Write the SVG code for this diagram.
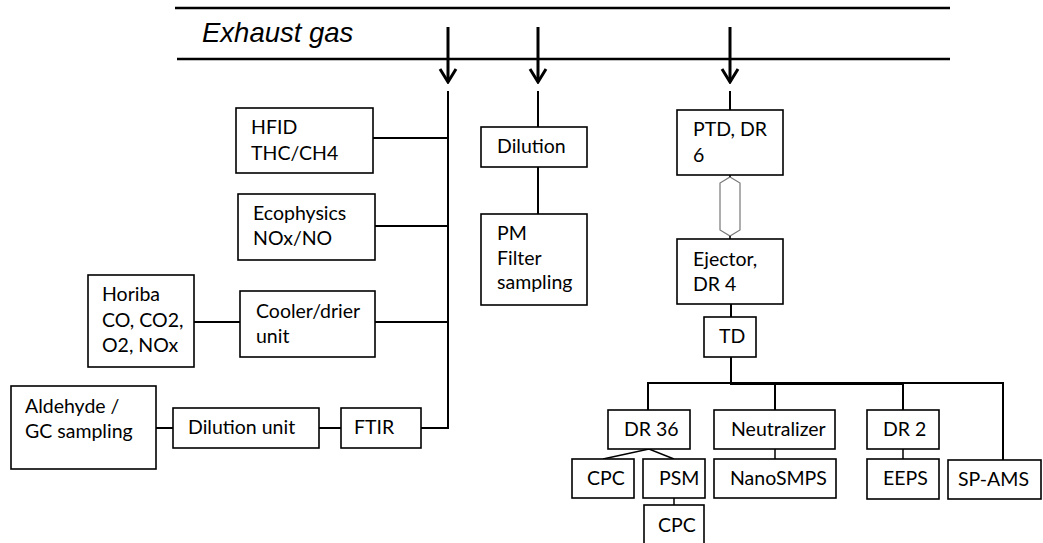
<svg xmlns="http://www.w3.org/2000/svg" width="1043" height="543" viewBox="0 0 1043 543">
<style>
.box{fill:#fff;stroke:#000;stroke-width:1.6}
.t{font-family:Lato,"Liberation Sans",sans-serif;font-size:19.5px;fill:#000}
.ln{stroke:#000;stroke-width:2;fill:none}
.thin{stroke:#000;stroke-width:1.5;fill:none}
.pipe{stroke:#000;stroke-width:2.5;fill:none}
.arr{stroke:#000;stroke-width:3;fill:none}
.title{font-family:"Liberation Sans",Arial,sans-serif;font-style:italic;font-size:27.5px;fill:#000}
</style>
<defs>
<marker id="chev" viewBox="-15 -10 17 20" refX="0" refY="0" markerWidth="17" markerHeight="20" markerUnits="userSpaceOnUse" orient="auto">
<path d="M -13 -8 L 0 0 L -13 8" fill="none" stroke="#000" stroke-width="3"/>
</marker>
</defs>
<g id="exhaust">
<line class="pipe" x1="175" y1="8" x2="950" y2="8"/>
<line class="pipe" x1="177" y1="59" x2="950" y2="59"/>
<text class="title" x="202" y="42">Exhaust gas</text>
</g>
<g id="connectors">
<line class="arr" x1="448" y1="27" x2="448" y2="82" marker-end="url(#chev)"/>
<line class="arr" x1="538" y1="27" x2="538" y2="82" marker-end="url(#chev)"/>
<line class="arr" x1="730" y1="27" x2="730" y2="82" marker-end="url(#chev)"/>
<polyline class="ln" points="448,91 448,428 421,428"/>
<line class="ln" x1="373" y1="138" x2="448" y2="138"/>
<line class="ln" x1="375" y1="226" x2="448" y2="226"/>
<line class="ln" x1="375" y1="322" x2="448" y2="322"/>
<line class="ln" x1="194" y1="322" x2="240" y2="322"/>
<line class="ln" x1="156" y1="428" x2="173" y2="428"/>
<line class="ln" x1="319" y1="428" x2="341" y2="428"/>
<line class="ln" x1="538" y1="91" x2="538" y2="127"/>
<line class="ln" x1="538" y1="167" x2="538" y2="214"/>
<line class="ln" x1="730" y1="91" x2="730" y2="110"/>
<polygon points="730,177 740,183 740,230 730,236 720,230 720,183" fill="none" stroke="#777" stroke-width="1.2"/>
<line class="thin" x1="730" y1="175" x2="730" y2="177"/>
<line class="thin" x1="730" y1="236" x2="730" y2="239"/>
<line class="ln" x1="731" y1="304" x2="731" y2="317"/>
<line class="ln" x1="731" y1="357" x2="731" y2="383"/>
<polyline class="ln" points="648,410 648,383 1003,383 1003,460"/>
<line class="ln" x1="730" y1="384" x2="903" y2="384"/>
<line class="ln" x1="775" y1="383" x2="775" y2="410"/>
<line class="ln" x1="903" y1="383" x2="903" y2="410"/>
<polyline class="thin" points="603,459 649,449 674,459"/>
<line class="thin" x1="674" y1="498" x2="674" y2="505"/>
<line class="thin" x1="775" y1="449" x2="775" y2="459"/>
<line class="thin" x1="903" y1="449" x2="903" y2="459"/>
</g>
<g id="hfid"><rect class="box" x="236" y="108" width="137" height="65"/><text class="t" x="251" y="134">HFID</text><text class="t" x="251" y="160">THC/CH4</text></g>
<g id="ecophysics"><rect class="box" x="238" y="194" width="137" height="66"/><text class="t" x="253" y="220">Ecophysics</text><text class="t" x="253" y="245">NOx/NO</text></g>
<g id="horiba"><rect class="box" x="88" y="275" width="106" height="92"/><text class="t" x="102" y="301">Horiba</text><text class="t" x="102" y="327">CO, CO2,</text><text class="t" x="102" y="352">O2, NOx</text></g>
<g id="cooler"><rect class="box" x="240" y="291" width="135" height="66"/><text class="t" x="256" y="318">Cooler/drier</text><text class="t" x="256" y="343">unit</text></g>
<g id="aldehyde"><rect class="box" x="11" y="386" width="145" height="83"/><text class="t" x="25" y="413">Aldehyde /</text><text class="t" x="25" y="438">GC sampling</text></g>
<g id="dilution-unit"><rect class="box" x="173" y="408" width="146" height="40"/><text class="t" x="188" y="434">Dilution unit</text></g>
<g id="ftir"><rect class="box" x="341" y="408" width="80" height="40"/><text class="t" x="354" y="434">FTIR</text></g>
<g id="dilution"><rect class="box" x="481" y="127" width="106" height="40"/><text class="t" x="497" y="153">Dilution</text></g>
<g id="pm"><rect class="box" x="481" y="214" width="106" height="91"/><text class="t" x="497" y="240">PM</text><text class="t" x="497" y="265">Filter</text><text class="t" x="497" y="289">sampling</text></g>
<g id="ptd"><rect class="box" x="677" y="110" width="106" height="65"/><text class="t" x="693" y="136">PTD, DR</text><text class="t" x="693" y="162">6</text></g>
<g id="ejector"><rect class="box" x="677" y="239" width="106" height="65"/><text class="t" x="693" y="266">Ejector,</text><text class="t" x="693" y="291">DR 4</text></g>
<g id="td"><rect class="box" x="704" y="317" width="52" height="40"/><text class="t" x="719" y="343">TD</text></g>
<g id="dr36"><rect class="box" x="608" y="410" width="82" height="39"/><text class="t" x="624" y="436">DR 36</text></g>
<g id="neutralizer"><rect class="box" x="714" y="410" width="121" height="39"/><text class="t" x="731" y="436">Neutralizer</text></g>
<g id="dr2"><rect class="box" x="867" y="410" width="72" height="39"/><text class="t" x="883" y="436">DR 2</text></g>
<g id="cpc1"><rect class="box" x="572" y="459" width="62" height="39"/><text class="t" x="587" y="485">CPC</text></g>
<g id="psm"><rect class="box" x="643" y="459" width="62" height="39"/><text class="t" x="659" y="485">PSM</text></g>
<g id="cpc2"><rect class="box" x="644" y="505" width="60" height="40"/><text class="t" x="658" y="532">CPC</text></g>
<g id="nanosmps"><rect class="box" x="714" y="459" width="122" height="39"/><text class="t" x="730" y="485">NanoSMPS</text></g>
<g id="eeps"><rect class="box" x="867" y="459" width="72" height="40"/><text class="t" x="883" y="485">EEPS</text></g>
<g id="spams"><rect class="box" x="948" y="460" width="93" height="39"/><text class="t" x="958" y="486">SP-AMS</text></g>
</svg>
